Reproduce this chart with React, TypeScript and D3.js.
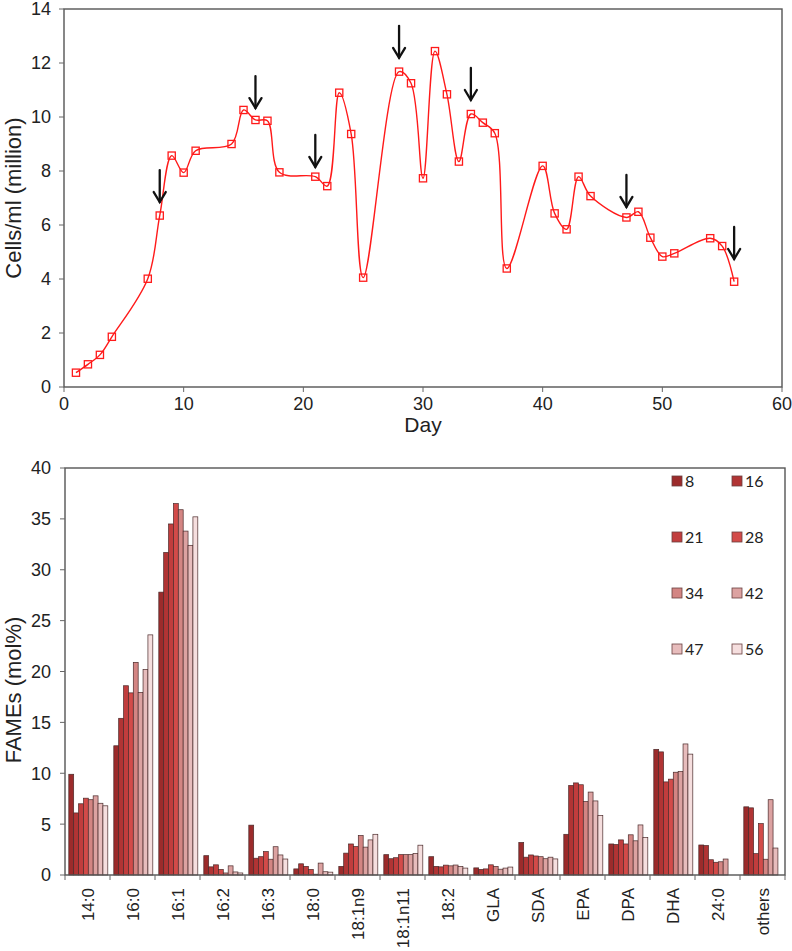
import React from "react";
import * as d3 from "d3";

// ---------- Top chart data ----------
const days = [1, 2, 3, 4, 7, 8, 9, 10, 11, 14, 15, 16, 17, 18, 21, 22, 23, 24, 25, 28, 29, 30, 31, 32, 33, 34, 35, 36, 37, 40, 41, 42, 43, 44, 47, 48, 49, 50, 51, 54, 55, 56];
const cells = [0.53, 0.84, 1.19, 1.86, 4.01, 6.35, 8.57, 7.94, 8.75, 9.0, 10.26, 9.89, 9.86, 7.95, 7.79, 7.44, 10.9, 9.37, 4.05, 11.68, 11.25, 7.73, 12.44, 10.84, 8.35, 10.11, 9.79, 9.4, 4.39, 8.19, 6.43, 5.84, 7.79, 7.07, 6.28, 6.49, 5.53, 4.83, 4.95, 5.51, 5.22, 3.9];
const arrowDays = [8, 16, 21, 28, 34, 47, 56];
const arrowTips = [6.85, 10.33, 8.15, 12.19, 10.63, 6.67, 4.74];
const topYTicks = [0, 2, 4, 6, 8, 10, 12, 14];
const topXTicks = [0, 10, 20, 30, 40, 50, 60];

// ---------- Bottom chart data ----------
const categories = ["14:0", "16:0", "16:1", "16:2", "16:3", "18:0", "18:1n9", "18:1n11", "18:2", "GLA", "SDA", "EPA", "DPA", "DHA", "24:0", "others"];
const seriesNames = ["8", "16", "21", "28", "34", "42", "47", "56"];
const seriesColors = ["#9c2b2b", "#b13434", "#c13d3d", "#d34b49", "#d38583", "#dca2a1", "#e7bcbc", "#f5dede"];
const d8 = [9.9, 12.7, 27.8, 1.9, 4.9, 0.6, 0.85, 2.0, 1.8, 0.7, 3.2, 4.0, 3.05, 12.35, 2.95, 6.7];
const d16 = [6.1, 15.4, 31.7, 0.8, 1.65, 1.1, 2.15, 1.6, 0.85, 0.55, 1.75, 8.8, 3.0, 12.1, 2.9, 6.6];
const d21 = [7.0, 18.6, 34.5, 1.0, 1.8, 0.85, 3.05, 1.7, 0.8, 0.6, 1.97, 9.05, 3.45, 9.15, 1.5, 2.1];
const d28 = [7.55, 17.9, 36.5, 0.55, 2.3, 0.55, 2.8, 2.0, 0.97, 1.0, 1.87, 8.87, 3.05, 9.42, 1.25, 5.05];
const d34 = [7.4, 20.9, 35.9, 0.2, 1.55, 0.08, 3.88, 2.0, 0.9, 0.85, 1.8, 7.22, 3.95, 10.1, 1.3, 1.55];
const d42 = [7.78, 17.95, 33.8, 0.9, 2.78, 1.17, 2.74, 2.0, 0.98, 0.57, 1.6, 8.15, 3.36, 10.17, 1.57, 7.4];
const d47 = [7.05, 20.2, 32.4, 0.3, 1.97, 0.32, 3.45, 2.12, 0.84, 0.68, 1.75, 7.28, 4.92, 12.88, 0, 2.65];
const d56 = [6.8, 23.6, 35.2, 0.2, 1.57, 0.28, 4.0, 2.93, 0.68, 0.78, 1.58, 5.85, 3.68, 11.88, 0, 0];
const fameSeries = [d8, d16, d21, d28, d34, d42, d47, d56];
const botYTicks = [0, 5, 10, 15, 20, 25, 30, 35, 40];

const AX = "'Liberation Sans', Arial, sans-serif";

export default function App() {
  // top scales
  const x1 = d3.scaleLinear().domain([0, 60]).range([64, 782]);
  const y1 = d3.scaleLinear().domain([0, 14]).range([387, 9]);
  const linePath = d3
    .line<number>()
    .x((_, i) => x1(days[i]))
    .y((d) => y1(d))
    .curve(d3.curveCatmullRom.alpha(0.5))(cells) as string;

  // bottom scales
  const xc = d3.scaleBand<string>().domain(categories).range([65, 785]).padding(0);
  const xs = d3.scaleBand<string>().domain(seriesNames).range([3.8, 42.8]).padding(0);
  const y2 = d3.scaleLinear().domain([0, 40]).range([875, 468]);

  const legendCols = [672, 732];
  const legendRows = [481, 537, 593, 649];

  return (
    <svg width={792} height={951} style={{ position: "absolute", left: 0, top: 0, background: "#fff" }}>
      <rect x={0} y={0} width={792} height={951} fill="#fff" />
      {/* ===== TOP CHART ===== */}
      <g>
        <rect x={x1(0)} y={y1(14)} width={x1(60) - x1(0)} height={y1(0) - y1(14)} fill="none" stroke="#555" strokeWidth={1.4} />
        {topYTicks.map((t) => (
          <g key={"ty" + t}>
            <line x1={x1(0) - 5} x2={x1(0)} y1={y1(t)} y2={y1(t)} stroke="#666" strokeWidth={1} />
            <text x={51} y={y1(t)} dy="0.36em" textAnchor="end" fontFamily={AX} fontSize={18} fill="#222">
              {t}
            </text>
          </g>
        ))}
        {topXTicks.map((t) => (
          <g key={"tx" + t}>
            <line x1={x1(t)} x2={x1(t)} y1={y1(0)} y2={y1(0) + 5} stroke="#666" strokeWidth={1} />
            <text x={x1(t)} y={410} textAnchor="middle" fontFamily={AX} fontSize={18} fill="#222">
              {t}
            </text>
          </g>
        ))}
        <text x={(x1(0) + x1(60)) / 2} y={432} textAnchor="middle" fontFamily={AX} fontSize={21} fill="#222">
          Day
        </text>
        <text transform={`translate(13,${(y1(0) + y1(14)) / 2}) rotate(-90)`} dy="0.36em" textAnchor="middle" fontFamily={AX} fontSize={22} fill="#222">
          Cells/ml (million)
        </text>
        <path d={linePath} fill="none" stroke="#ff1a1a" strokeWidth={1.4} />
        {cells.map((v, i) => (
          <rect key={"m" + i} x={x1(days[i]) - 3.6} y={y1(v) - 3.6} width={7.2} height={7.2} fill="none" stroke="#ff1a1a" strokeWidth={1.3} />
        ))}
        {arrowDays.map((d, i) => {
          const ax = x1(d);
          const tip = y1(arrowTips[i]);
          return (
            <g key={"a" + i} stroke="#111" strokeWidth={2.3} fill="none" strokeLinecap="round">
              <line x1={ax} x2={ax} y1={tip - 32} y2={tip} />
              <polyline points={`${ax - 6},${tip - 10} ${ax},${tip} ${ax + 6},${tip - 10}`} />
            </g>
          );
        })}
      </g>

      {/* ===== BOTTOM CHART ===== */}
      <g>
        {categories.map((c, ci) => (
          <g key={"c" + c}>
            {fameSeries.map((s, si) => {
              const v = s[ci];
              if (v <= 0) return null;
              return (
                <rect
                  key={si}
                  x={(xc(c) as number) + (xs(seriesNames[si]) as number)}
                  y={y2(v)}
                  width={xs.bandwidth()}
                  height={y2(0) - y2(v)}
                  fill={seriesColors[si]}
                  stroke="#4a2a2a"
                  strokeWidth={0.7}
                />
              );
            })}
          </g>
        ))}
        <rect x={65} y={y2(40)} width={720} height={y2(0) - y2(40)} fill="none" stroke="#555" strokeWidth={1.4} />
        {botYTicks.map((t) => (
          <g key={"by" + t}>
            <line x1={60} x2={65} y1={y2(t)} y2={y2(t)} stroke="#666" strokeWidth={1} />
            <text x={51} y={y2(t)} dy="0.36em" textAnchor="end" fontFamily={AX} fontSize={18} fill="#222">
              {t}
            </text>
          </g>
        ))}
        {categories.map((c) => (
          <g key={"bx" + c}>
            <line x1={xc(c) as number} x2={xc(c) as number} y1={y2(0)} y2={y2(0) + 5} stroke="#666" strokeWidth={1} />
            <text
              transform={`translate(${(xc(c) as number) + xc.bandwidth() / 2},${888}) rotate(-90)`}
              dy="0.36em"
              textAnchor="end"
              fontFamily={AX}
              fontSize={17}
              fill="#222"
            >
              {c}
            </text>
          </g>
        ))}
        <line x1={785} x2={785} y1={y2(0)} y2={y2(0) + 5} stroke="#666" strokeWidth={1} />
        <text transform={`translate(13,${690}) rotate(-90)`} dy="0.36em" textAnchor="middle" fontFamily={AX} fontSize={22} fill="#222">
          FAMEs (mol%)
        </text>
        {seriesNames.map((n, i) => {
          const lx = legendCols[i % 2];
          const ly = legendRows[Math.floor(i / 2)];
          return (
            <g key={"lg" + n}>
              <rect x={lx} y={ly - 5} width={10} height={10} fill={seriesColors[i]} stroke="#6a4040" strokeWidth={0.8} />
              <text x={lx + 13} y={ly} dy="0.36em" fontFamily="Lato, 'Open Sans', sans-serif" fontSize={16} fill="#222">
                {n}
              </text>
            </g>
          );
        })}
      </g>
    </svg>
  );
}
